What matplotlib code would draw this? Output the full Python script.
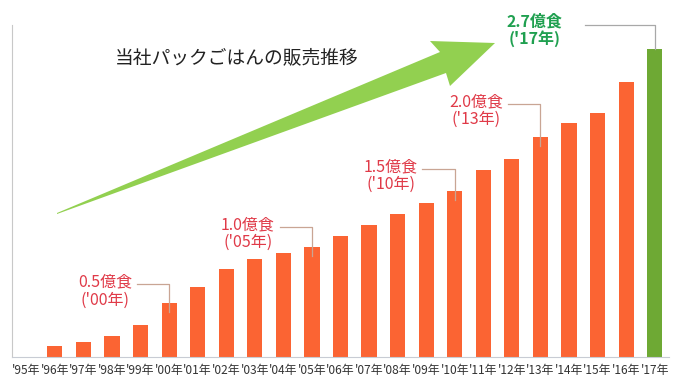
import matplotlib
matplotlib.use("Agg")
import matplotlib.pyplot as plt
from matplotlib.patches import Polygon

plt.rcParams['font.family'] = ['Noto Sans CJK JP', 'DejaVu Sans']

# ---- data ----
years = ["'95年", "'96年", "'97年", "'98年", "'99年", "'00年", "'01年", "'02年",
         "'03年", "'04年", "'05年", "'06年", "'07年", "'08年", "'09年", "'10年",
         "'11年", "'12年", "'13年", "'14年", "'15年", "'16年", "'17年"]
sales = [0, 0.10, 0.14, 0.19, 0.29, 0.49, 0.64, 0.80, 0.89, 0.95, 1.00, 1.10,
         1.20, 1.30, 1.40, 1.51, 1.70, 1.80, 2.00, 2.13, 2.22, 2.50, 2.80]
milestone_idx = [5, 10, 15, 18]
milestone_text = ["0.5億食\n('00年)", "1.0億食\n('05年)", "1.5億食\n('10年)", "2.0億食\n('13年)"]
milestone_y = [0.60, 1.12, 1.65, 2.24]
final_text = "2.7億食\n('17年)"
title = "当社パックごはんの販売推移"

ORANGE = "#fb6433"
GREEN_BAR = "#6ea934"
RED_TXT = "#e03a48"
GREEN_TXT = "#20a050"

fig = plt.figure(figsize=(6.8, 3.88), dpi=100)

# decorative arrow (overlay in pixel coordinates)
ov = fig.add_axes([0, 0, 1, 1], zorder=0)
ov.set_xlim(0, 680)
ov.set_ylim(388, 0)
ov.axis('off')
arrow_pts = [(57, 213), (440, 52), (430, 41), (495, 43), (450, 86), (446, 73), (57, 214)]
ov.add_patch(Polygon(arrow_pts, closed=True, facecolor="#92d050", edgecolor="none"))

ax = fig.add_axes([12/680, 31/388, 657/680, 332/388], zorder=1)
ax.patch.set_alpha(0)
x = list(range(len(years)))
colors = [ORANGE] * (len(years) - 1) + [GREEN_BAR]
ax.bar(x, sales, width=0.53, color=colors, zorder=2)
ax.set_xlim(-0.5, len(years) - 0.5)
ax.set_ylim(0, 3.02)
ax.set_xticks(x)
ax.set_xticklabels(years, fontsize=8.6, color="#333333")
ax.tick_params(axis='x', length=0, pad=5)
ax.set_yticks([])
for s in ['top', 'right']:
    ax.spines[s].set_visible(False)
ax.spines['left'].set_color("#c8c8c8")
ax.spines['bottom'].set_color("#c8ccd4")

for i, t, ty in zip(milestone_idx, milestone_text, milestone_y):
    ax.text(i - 1.3, ty, t, ha='right', va='center', multialignment='center',
            fontsize=11.5, color=RED_TXT, linespacing=1.05, zorder=3)
    ly = ty + 0.06
    ax.plot([i - 1.13, i, i], [ly, ly, sales[i] - 0.08], color="#c9a594",
            lw=0.9, zorder=3, clip_on=False)

last = len(years) - 1
ax.text(17.8, 2.97, final_text, ha='center', va='center', multialignment='center',
        fontsize=11.5, fontweight='bold', color=GREEN_TXT, linespacing=1.05,
        zorder=3, clip_on=False)
ax.plot([19.55, last, last], [3.02, 3.02, sales[last]], color="#a8a8a8",
        lw=0.9, zorder=3, clip_on=False)

fig.text(115/680, (388-58)/388, title, fontsize=13.5, color="#222222",
         ha='left', va='center')

fig.savefig("out.png", dpi=100)
